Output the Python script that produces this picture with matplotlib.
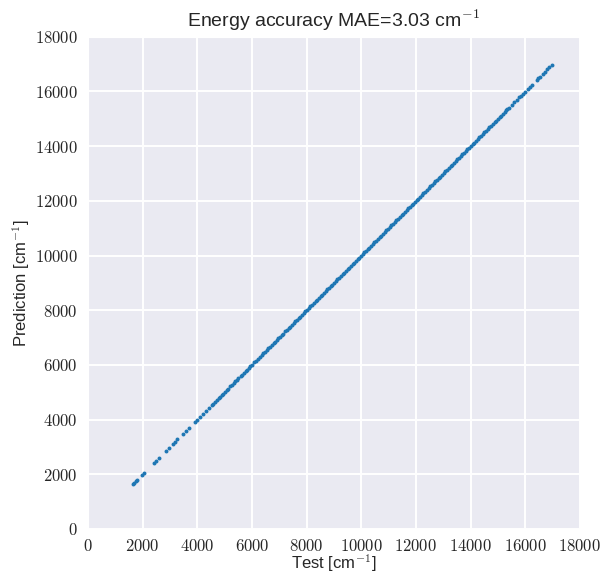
import numpy as np
import matplotlib
matplotlib.use("Agg")
import matplotlib.pyplot as plt
import seaborn as sns
from matplotlib.ticker import FuncFormatter

# ---- data (cm^-1) ----
test_low = [1636, 1702, 1758, 1803, 1966, 2058, 2431, 2488, 2612, 2840, 2978, 3096, 3178,
            3272, 3491, 3586, 3710, 3915, 3998, 4102, 4219, 4309, 4421, 4536, 4561, 4640, 4705]
pred_low = [1640, 1699, 1762, 1800, 1963, 2061, 2427, 2492, 2609, 2844, 2975, 3099, 3174,
            3276, 3488, 3590, 3707, 3919, 3995, 4105, 4216, 4313, 4418, 4539, 4558, 4644, 4701]

test_mid = [4782, 4836, 4902, 4958, 5021, 5079, 5126, 5214, 5268, 5331,
            5392, 5447, 5508, 5589, 5641, 5703, 5768, 5822, 5885, 5947,
            5996, 6088, 6139, 6205, 6296, 6352, 6418, 6473, 6537, 6604,
            6662, 6721, 6789, 6843, 6907, 6968, 7032, 7094, 7151, 7219,
            7276, 7338, 7405, 7463, 7521, 7589, 7647, 7712, 7768, 7833,
            7891, 7958, 8016, 8079, 8142, 8201, 8263, 8327, 8384, 8449,
            8512, 8571, 8636, 8694, 8758, 8819, 8877, 8943, 9005, 9062,
            9128, 9189, 9247, 9313, 9372, 9436, 9498, 9556, 9621, 9683,
            9741, 9806, 9867, 9925, 9991, 10052, 10114, 10176, 10237, 10298,
            10361, 10423, 10482, 10547, 10609, 10668, 10731, 10795, 10853, 10917,
            10978, 11036, 11102, 11163, 11224, 11287, 11346, 11409, 11472, 11531,
            11596, 11657, 11718, 11781, 11843, 11902, 11967, 12029, 12088, 12153,
            12214, 12276, 12339, 12398, 12461, 12524, 12586, 12647, 12709, 12771,
            12832, 12896, 12957, 13018, 13081, 13143, 13202, 13267, 13328, 13389,
            13452, 13513, 13574, 13638, 13699, 13761, 13823, 13884, 13947, 14006,
            14071, 14132, 14193, 14257, 14316, 14379, 14442, 14503, 14566, 14627,
            14688, 14751, 14812, 14874, 14936, 14997, 15058, 15121, 15183, 15244,
            15302]
resid_mid = [3, -2, 4, -5, 1, -3, 6, -1, 2, -4,
             5, -3, 1, 2, -6, 3, -2, 4, -1, 2,
             -3, 4, -5, 2, 1, -2, 3, -4, 6, -1,
             2, -3, 4, 1, -5, 3, -2, 2, -4, 5,
             -1, 3, -2, 4, -3, 1, 5, -2, 3, -4,
             2, -1, 4, -3, 2, -5, 3, 1, -2, 4,
             -3, 2, 5, -1, 3, -4, 2, -2, 4, -3,
             1, 4, -2, 3, -5, 2, -1, 3, -3, 6,
             -2, 3, -4, 1, 2, -3, 5, -1, 2, -4,
             3, -2, 4, -3, 1, 2, -5, 3, -1, 4,
             -3, 2, 1, -4, 5, -2, 3, -1, 2, -3,
             4, -1, 3, -5, 2, 1, -3, 4, -2, 3,
             -4, 2, -1, 5, -3, 2, 1, -2, 4, -3,
             3, -5, 2, 1, -2, 4, -3, 2, -1, 5,
             -2, 3, -4, 2, 1, -3, 5, -2, 3, -1,
             4, -3, 2, -1, 3, -5, 2, 1, -4, 3,
             -2, 4, -1, 3, -3, 2, -5, 1, 3, -2,
             4]

test_high = [15348, 15410, 15506, 15598, 15703, 15781, 15834, 15902, 16003, 16098,
             16182, 16251, 16418, 16481, 16543, 16648, 16727, 16808, 16883, 16972]
pred_high = [15345, 15414, 15502, 15601, 15699, 15785, 15830, 15906, 15999, 16102,
             16178, 16255, 16414, 16485, 16540, 16652, 16723, 16812, 16879, 16975]

tick_values = [0, 2000, 4000, 6000, 8000, 10000, 12000, 14000, 16000, 18000]
mae = 3.03

test = np.concatenate([test_low, test_mid, test_high])
pred = np.concatenate([pred_low, np.array(test_mid) + np.array(resid_mid), pred_high])

# ---- style ----
sns.set_style("darkgrid")
plt.rcParams['font.family'] = ['Liberation Sans', 'DejaVu Sans']
plt.rcParams['mathtext.fontset'] = 'cm'
plt.rcParams['grid.linewidth'] = 1.4

fig = plt.figure(figsize=(6.15, 5.76), dpi=100)
ax = fig.add_axes([0.143, 0.0816, 0.800, 0.8545])

ax.scatter(test, pred, s=8, color='#1f77b4', linewidths=0)

ax.set_xlim(tick_values[0], tick_values[-1])
ax.set_ylim(tick_values[0], tick_values[-1])
ax.set_xticks(tick_values)
ax.set_yticks(tick_values)
fmt = FuncFormatter(lambda v, p: r'$%d$' % int(v))
ax.xaxis.set_major_formatter(fmt)
ax.yaxis.set_major_formatter(fmt)
ax.tick_params(axis='x', labelsize=12, pad=3)
ax.tick_params(axis='y', labelsize=12, pad=4)

ax.set_xlabel(r'Test [cm$^{-1}$]', fontsize=12, labelpad=-1)
ax.set_ylabel(r'Prediction [cm$^{-1}$]', fontsize=12, labelpad=2)
ax.set_title(r'Energy accuracy MAE=%.2f cm$^{-1}$' % mae, fontsize=14, pad=7)

fig.savefig('out.png', dpi=100)
